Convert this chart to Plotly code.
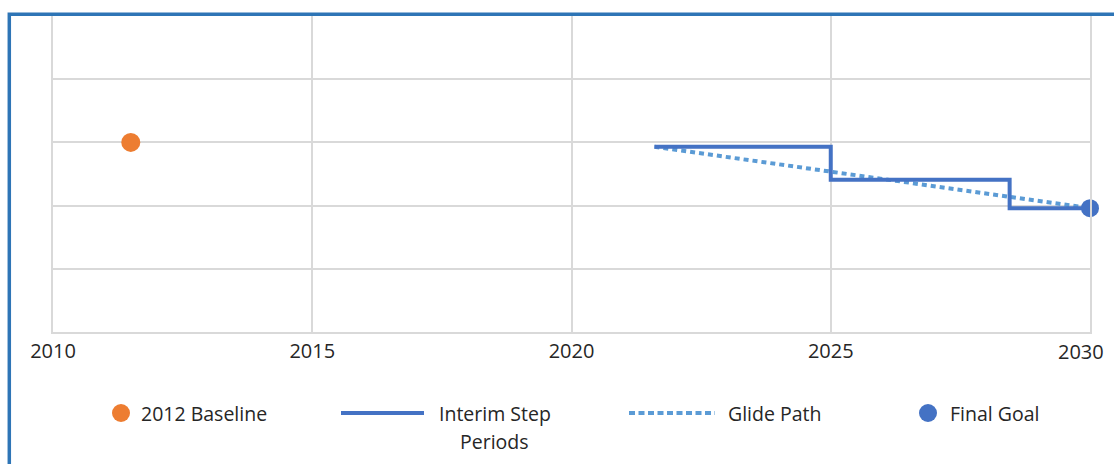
import plotly.graph_objects as go

# Series values (x in years, y on an unlabeled 0-5 scale)
baseline_years = [2011.5]
baseline_values = [3.0]
step_years = [2021.6, 2025.0, 2028.45, 2030.0]
step_values = [2.93, 2.41, 1.96, 1.96]
glide_years = [2021.6, 2030.0]
glide_values = [2.93, 1.96]
goal_years = [2030.0]
goal_values = [1.96]
x_tick_values = [2010, 2015, 2020, 2025, 2030]
series_names = ["2012 Baseline", "Interim Step Periods", "Glide Path", "Final Goal"]

ORANGE = "#ED7D31"
BLUE = "#4472C4"
LIGHT_BLUE = "#5B9BD5"
GRID = "#D9D9D9"
TEXT = "#262626"
FRAME = "#2E75B6"
FONT = "Open Sans"

W, H = 1114, 464
ML, MR, MT, MB = 53, 24, 16, 132
PW, PH = W - ML - MR, H - MT - MB


def px_x(px):
    return (px - ML) / PW


def px_y(py):
    return (H - MB - py) / PH


# The last year label is drawn separately, nudged inward to stay inside the frame
tick_labels = [str(v) for v in x_tick_values]
last_label = tick_labels[-1]
tick_labels[-1] = ""
tick_font = dict(family=FONT, size=20, color=TEXT)

fig = go.Figure()

fig.add_trace(go.Scatter(
    x=glide_years, y=glide_values, mode="lines", name=series_names[2],
    line=dict(color=LIGHT_BLUE, width=4, dash="5px,4px"), showlegend=False,
))
fig.add_trace(go.Scatter(
    x=step_years, y=step_values, mode="lines", name=series_names[1],
    line=dict(color=BLUE, width=4, shape="hv"), showlegend=False,
    cliponaxis=False,
))
fig.add_trace(go.Scatter(
    x=baseline_years, y=baseline_values, mode="markers", name=series_names[0],
    marker=dict(color=ORANGE, size=19), showlegend=False,
))
fig.add_trace(go.Scatter(
    x=goal_years, y=goal_values, mode="markers", name=series_names[3],
    marker=dict(color=BLUE, size=18), showlegend=False, cliponaxis=False,
))

shapes = []
annotations = []

# Outer chart frame
shapes.append(dict(
    type="rect", xref="paper", yref="paper",
    x0=px_x(9.3), x1=px_x(W + 40), y0=px_y(H + 40), y1=px_y(14.3),
    line=dict(color=FRAME, width=3.5), fillcolor="rgba(0,0,0,0)", layer="above",
))

annotations.append(dict(
    xref="x", yref="paper", x=x_tick_values[-1], xshift=-9.5, y=px_y(352),
    text=last_label, showarrow=False, xanchor="center", yanchor="middle",
    font=tick_font,
))

# Legend row
leg_y = 413
legend_font = dict(family=FONT, size=19.5, color=TEXT)


def legend_dot(cx, color):
    r = 9
    shapes.append(dict(
        type="circle", xref="paper", yref="paper",
        x0=px_x(cx - r), x1=px_x(cx + r), y0=px_y(leg_y + r), y1=px_y(leg_y - r),
        fillcolor=color, line=dict(width=0),
    ))


def legend_line(x0, x1, color, dash=None):
    shapes.append(dict(
        type="line", xref="paper", yref="paper",
        x0=px_x(x0), x1=px_x(x1), y0=px_y(leg_y), y1=px_y(leg_y),
        line=dict(color=color, width=4, dash=dash or "solid"),
    ))


def legend_text(x, y, text, anchor="left"):
    annotations.append(dict(
        xref="paper", yref="paper", x=px_x(x), y=px_y(y), text=text,
        showarrow=False, xanchor=anchor, yanchor="middle", font=legend_font,
    ))


legend_dot(121, ORANGE)
legend_text(139, leg_y, series_names[0])

legend_line(341, 424, BLUE)
first, second = series_names[1].rsplit(" ", 1)
legend_text(494.5, leg_y, first, anchor="center")
legend_text(494.5, leg_y + 28.7, second, anchor="center")

legend_line(629, 715, LIGHT_BLUE, dash="6px,3.5px")
legend_text(726, leg_y, series_names[2])

legend_dot(928, BLUE)
legend_text(948, leg_y, series_names[3])

fig.update_layout(
    width=W, height=H,
    margin=dict(l=ML, r=MR, t=MT, b=MB, pad=0),
    paper_bgcolor="white", plot_bgcolor="white",
    showlegend=False,
    shapes=shapes, annotations=annotations,
    xaxis=dict(
        range=[2010, 2030], tickmode="array", tickvals=x_tick_values,
        ticktext=tick_labels, automargin=False,
        showgrid=True, gridcolor=GRID, gridwidth=1.5,
        showline=True, linecolor=GRID, linewidth=1.5, mirror=True,
        zeroline=False, ticks="", tickfont=tick_font,
    ),
    yaxis=dict(
        range=[0, 5], dtick=1, showticklabels=False, automargin=False,
        showgrid=True, gridcolor=GRID, gridwidth=1.5,
        showline=True, linecolor=GRID, linewidth=1.5, mirror=True,
        zeroline=False, ticks="",
    ),
)

fig.write_html("out.html")
